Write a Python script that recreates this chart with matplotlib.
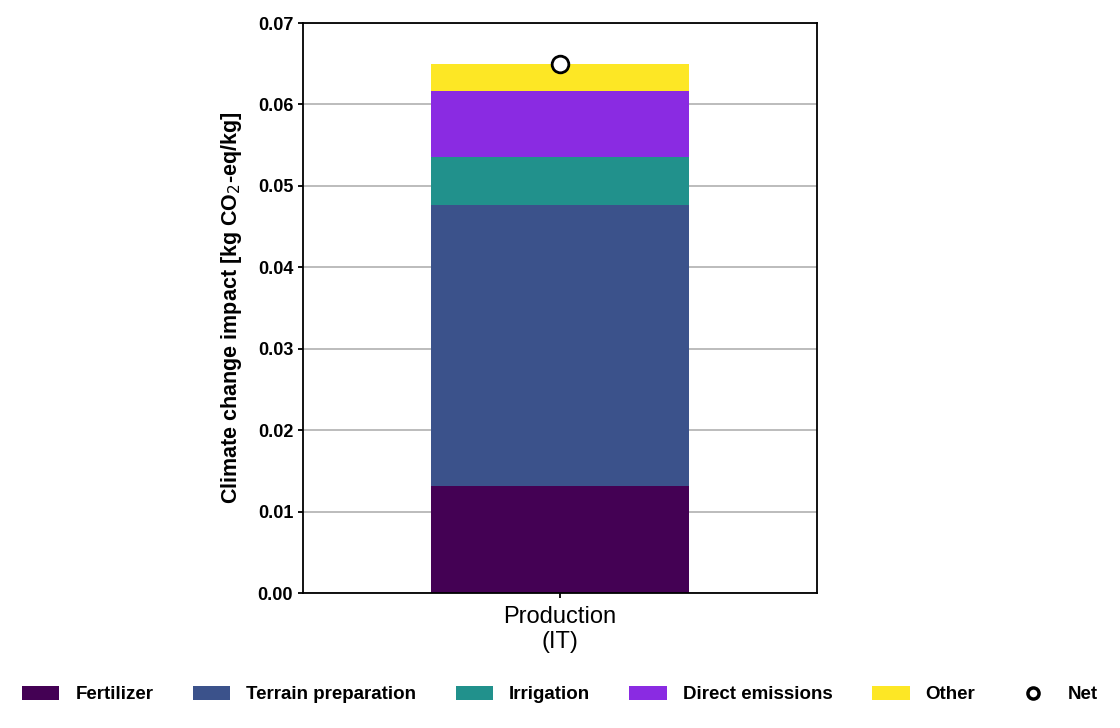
import matplotlib
matplotlib.use("Agg")
import matplotlib.pyplot as plt
from matplotlib.patches import Patch
from matplotlib.lines import Line2D

plt.rcParams["font.family"] = ["Liberation Sans", "DejaVu Sans"]

# data
categories = ["Production\n(IT)"]
components = ["Fertilizer", "Terrain preparation", "Irrigation", "Direct emissions", "Other"]
values = [
    [0.0131],   # Fertilizer
    [0.0345],   # Terrain preparation
    [0.0060],   # Irrigation
    [0.0080],   # Direct emissions
    [0.0034],   # Other
]
net = [0.0650]
colors = ["#440154", "#3b528b", "#21918c", "#8a2be2", "#fde725"]

fig = plt.figure(figsize=(11.2, 7.28), dpi=100)
ax = fig.add_axes([0.2705, 0.1854, 0.459, 0.783])

x = list(range(len(categories)))
bottom = [0.0] * len(categories)
for name, vals, c in zip(components, values, colors):
    ax.bar(x, vals, width=1.0, bottom=bottom, color=c, label=name, zorder=2)
    bottom = [b + v for b, v in zip(bottom, vals)]

ax.plot(x, net, "o", markersize=12, markerfacecolor="white",
        markeredgecolor="black", markeredgewidth=2, zorder=3)

ax.set_xlim(-1, 1)
ax.set_ylim(0, 0.07)
ax.set_yticks([i * 0.01 for i in range(8)])
ax.set_yticklabels([f"{i * 0.01:.2f}" for i in range(8)], fontsize=13, fontweight="bold")
ax.set_xticks(x)
ax.set_xticklabels(categories, fontsize=17, linespacing=1.15)
ax.tick_params(axis="x", pad=6)
ax.yaxis.grid(True, color="#b0b0b0", linewidth=1.2, zorder=0)
ax.set_axisbelow(True)
for s in ax.spines.values():
    s.set_linewidth(1.3)
ax.tick_params(width=1.3)
ax.set_ylabel("Climate change impact [kg CO$_2$-eq/kg]", fontsize=15.5,
              fontweight="bold", labelpad=10)

handles = [Patch(facecolor=c, label=n) for n, c in zip(components, colors)]
handles.append(Line2D([], [], marker="o", linestyle="none", markersize=8,
                      markerfacecolor="white", markeredgecolor="black",
                      markeredgewidth=2.5, label="Net"))
fig.legend(handles=handles, loc="center", ncol=6, frameon=False,
           bbox_to_anchor=(0.5, 0.046), prop={"size": 13.5, "weight": "bold"},
           handlelength=2.0, handleheight=0.75, columnspacing=2.1, handletextpad=0.85)

fig.savefig("out.png", dpi=100)
